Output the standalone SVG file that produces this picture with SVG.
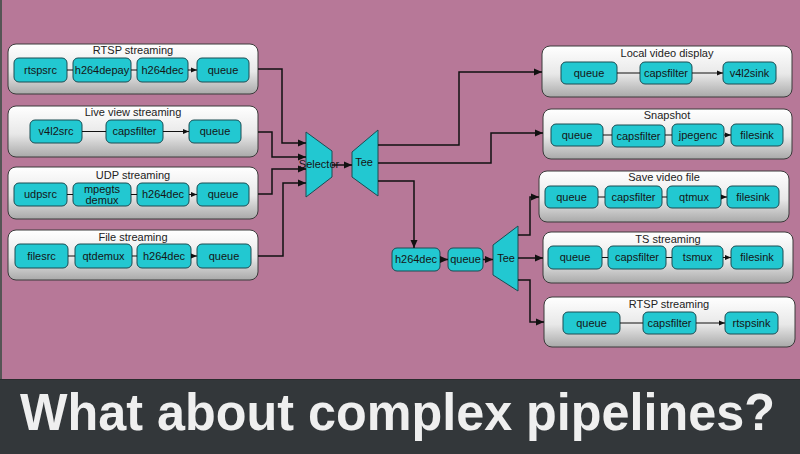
<svg xmlns="http://www.w3.org/2000/svg" width="800" height="454" viewBox="0 0 800 454">
<defs>
<linearGradient id="pg" x1="0" y1="0" x2="0" y2="1">
<stop offset="0" stop-color="#ffffff"/>
<stop offset="0.55" stop-color="#e8e8e8"/>
<stop offset="1" stop-color="#a9a9a9"/>
</linearGradient>
<marker id="ar" markerUnits="userSpaceOnUse" markerWidth="8" markerHeight="8" viewBox="0 0 8 8" refX="8" refY="4" orient="auto">
<path d="M0,0.5 L8,4 L0,7.5 Z" fill="#111"/>
</marker>
<marker id="as" markerUnits="userSpaceOnUse" markerWidth="6" markerHeight="6" viewBox="0 0 6 6" refX="6" refY="3" orient="auto">
<path d="M0,0.5 L6,3 L0,5.5 Z" fill="#111"/>
</marker>
<style>
.panel{fill:url(#pg);stroke:#3a3a3a;stroke-width:1}
.node{fill:#22c8d1;stroke:#1a4c52;stroke-width:1}
.t{font-family:"Liberation Sans",Arial,sans-serif;font-size:11px;fill:#151515;text-anchor:middle}
.h{font-family:"Liberation Sans",Arial,sans-serif;font-size:11px;fill:#222;text-anchor:middle}
.w{stroke:#111;stroke-width:1.5;fill:none;marker-end:url(#ar)}
.s{stroke:#111;stroke-width:1;fill:none;marker-end:url(#as)}
</style>
</defs>
<rect x="0" y="0" width="800" height="454" fill="#b77898"/>
<rect x="0" y="0" width="2" height="380" fill="#555"/>

<g id="p-rtsp">
<rect class="panel" x="8" y="44" width="250" height="50" rx="8"/>
<text class="h" x="133" y="54">RTSP streaming</text>
<rect class="node" x="14" y="58" width="53" height="24" rx="5"/><text class="t" x="40.5" y="74">rtspsrc</text>
<rect class="node" x="73" y="58" width="58" height="24" rx="5"/><text class="t" x="102" y="74">h264depay</text>
<rect class="node" x="137" y="58" width="51" height="24" rx="5"/><text class="t" x="162.5" y="74">h264dec</text>
<rect class="node" x="197" y="58" width="52" height="24" rx="5"/><text class="t" x="223" y="74">queue</text>
<path class="s" d="M67,70 H73 M131,70 H137 M188,70 H197"/>
</g>

<g id="p-live">
<rect class="panel" x="8" y="106" width="250" height="51" rx="8"/>
<text class="h" x="133" y="116">Live view streaming</text>
<rect class="node" x="30" y="120" width="52" height="23" rx="5"/><text class="t" x="56" y="135">v4l2src</text>
<rect class="node" x="106" y="120" width="57" height="23" rx="5"/><text class="t" x="134.5" y="135">capsfilter</text>
<rect class="node" x="189" y="120" width="52" height="23" rx="5"/><text class="t" x="215" y="135">queue</text>
<path class="s" d="M82,131.5 H106 M163,131.5 H189"/>
</g>

<g id="p-udp">
<rect class="panel" x="8" y="167" width="250" height="52" rx="8"/>
<text class="h" x="133" y="179">UDP streaming</text>
<rect class="node" x="14" y="183" width="53" height="23" rx="5"/><text class="t" x="40.5" y="198">udpsrc</text>
<rect class="node" x="73" y="183" width="58" height="23" rx="5"/><text class="t" x="102" y="193">mpegts</text><text class="t" x="102" y="204">demux</text>
<rect class="node" x="137" y="183" width="52" height="23" rx="5"/><text class="t" x="163" y="198">h264dec</text>
<rect class="node" x="197" y="183" width="52" height="23" rx="5"/><text class="t" x="223" y="198">queue</text>
<path class="s" d="M67,194.5 H73 M131,194.5 H137 M189,194.5 H197"/>
</g>

<g id="p-file">
<rect class="panel" x="8" y="230" width="250" height="50" rx="8"/>
<text class="h" x="133" y="241">File streaming</text>
<rect class="node" x="15" y="244" width="53" height="24" rx="5"/><text class="t" x="41.5" y="260">filesrc</text>
<rect class="node" x="75" y="244" width="57" height="24" rx="5"/><text class="t" x="103.5" y="260">qtdemux</text>
<rect class="node" x="137" y="244" width="54" height="24" rx="5"/><text class="t" x="164" y="260">h264dec</text>
<rect class="node" x="197" y="244" width="54" height="24" rx="5"/><text class="t" x="224" y="260">queue</text>
<path class="s" d="M68,256 H75 M132,256 H137 M191,256 H197"/>
</g>

<g id="selector">
<polygon class="node" points="306,132 332,151 332,177 306,197"/>
<text class="t" x="319" y="168">Selector</text>
</g>
<g id="tee1">
<polygon class="node" points="352,152 378,130 378,196 352,177"/>
<text class="t" x="364" y="166">Tee</text>
</g>

<g id="h264dec">
<rect class="node" x="392" y="248" width="48" height="23" rx="5"/><text class="t" x="416" y="263">h264dec</text>
</g>
<g id="queue">
<rect class="node" x="448" y="248" width="35" height="23" rx="5"/><text class="t" x="465.5" y="263">queue</text>
</g>
<g id="tee2">
<polygon class="node" points="493,245 518,226 518,291 493,275"/>
<text class="t" x="506" y="262">Tee</text>
</g>

<g id="r-local">
<rect class="panel" x="542" y="46" width="250" height="51" rx="8"/>
<text class="h" x="667" y="57">Local video display</text>
<rect class="node" x="561" y="62" width="56" height="22" rx="5"/><text class="t" x="589" y="77">queue</text>
<rect class="node" x="640" y="62" width="52" height="22" rx="5"/><text class="t" x="666" y="77">capsfilter</text>
<rect class="node" x="723" y="62" width="53" height="22" rx="5"/><text class="t" x="749.5" y="77">v4l2sink</text>
<path class="s" d="M617,73 H640 M692,73 H723"/>
</g>

<g id="r-snap">
<rect class="panel" x="543" y="109" width="249" height="50" rx="8"/>
<text class="h" x="667" y="119">Snapshot</text>
<rect class="node" x="551" y="124" width="52" height="22" rx="5"/><text class="t" x="577" y="139">queue</text>
<rect class="node" x="612" y="125" width="53" height="22" rx="5"/><text class="t" x="638.5" y="140">capsfilter</text>
<rect class="node" x="672" y="124" width="52" height="22" rx="5"/><text class="t" x="698" y="139">jpegenc</text>
<rect class="node" x="731" y="124" width="52" height="22" rx="5"/><text class="t" x="757" y="139">filesink</text>
<path class="s" d="M603,135 H612 M665,135 H672 M724,135 H731"/>
</g>

<g id="r-save">
<rect class="panel" x="539" y="171" width="250" height="51" rx="8"/>
<text class="h" x="664" y="181">Save video file</text>
<rect class="node" x="545" y="186" width="53" height="22" rx="5"/><text class="t" x="571.5" y="201">queue</text>
<rect class="node" x="605" y="186" width="57" height="22" rx="5"/><text class="t" x="633.5" y="201">capsfilter</text>
<rect class="node" x="667" y="186" width="54" height="22" rx="5"/><text class="t" x="694" y="201">qtmux</text>
<rect class="node" x="727" y="186" width="52" height="22" rx="5"/><text class="t" x="753" y="201">filesink</text>
<path class="s" d="M598,197 H605 M662,197 H667 M721,197 H727"/>
</g>

<g id="r-ts">
<rect class="panel" x="543" y="232" width="250" height="51" rx="8"/>
<text class="h" x="668" y="243">TS streaming</text>
<rect class="node" x="548" y="246" width="54" height="23" rx="5"/><text class="t" x="575" y="261">queue</text>
<rect class="node" x="608" y="246" width="58" height="23" rx="5"/><text class="t" x="637" y="261">capsfilter</text>
<rect class="node" x="672" y="246" width="51" height="23" rx="5"/><text class="t" x="697.5" y="261">tsmux</text>
<rect class="node" x="731" y="246" width="52" height="23" rx="5"/><text class="t" x="757" y="261">filesink</text>
<path class="s" d="M602,257.5 H608 M666,257.5 H672 M723,257.5 H731"/>
</g>

<g id="r-rtsp">
<rect class="panel" x="544" y="297" width="251" height="50" rx="8"/>
<text class="h" x="669" y="308">RTSP streaming</text>
<rect class="node" x="563" y="312" width="57" height="22" rx="5"/><text class="t" x="591.5" y="327">queue</text>
<rect class="node" x="643" y="312" width="53" height="22" rx="5"/><text class="t" x="669.5" y="327">capsfilter</text>
<rect class="node" x="725" y="312" width="53" height="22" rx="5"/><text class="t" x="751.5" y="327">rtspsink</text>
<path class="s" d="M620,323 H643 M696,323 H725"/>
</g>

<g id="connectors">
<path class="w" d="M258,69 H282 V143 H306"/>
<path class="w" d="M258,132 H272 V157 H306"/>
<path class="w" d="M258,194 H272 V169 H306"/>
<path class="w" d="M258,256 H283 V183 H306"/>
<path class="w" d="M332,165 H352"/>
<path class="w" d="M378,145 H459 V72 H542"/>
<path class="w" d="M378,163 H491 V133 H543"/>
<path class="w" d="M378,181 H414 V248"/>
<path class="w" d="M440,259.5 H448"/>
<path class="w" d="M483,259.5 H493"/>
<path class="w" d="M518,235 H530 V197 H539"/>
<path class="w" d="M518,258 H543"/>
<path class="w" d="M518,280 H530 V322 H544"/>
</g>

<rect x="0" y="379" width="800" height="75" fill="#33373a"/>
<rect x="0" y="379" width="800" height="1" fill="#2a2c2e"/>
<text x="20" y="430" font-family="'Liberation Sans',Arial,sans-serif" font-weight="bold" font-size="52" fill="#efefef" textLength="755" lengthAdjust="spacingAndGlyphs">What about complex pipelines?</text>
</svg>
